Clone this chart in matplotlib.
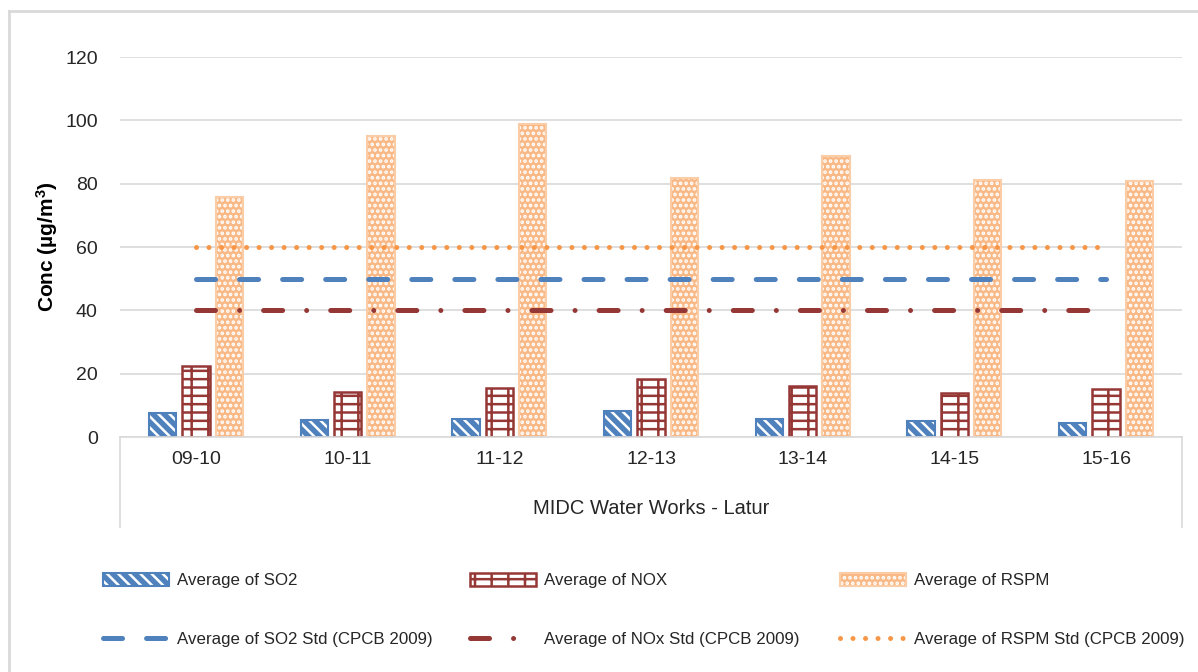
import matplotlib
matplotlib.use('Agg')
import numpy as np
import matplotlib.pyplot as plt
from matplotlib import font_manager
from matplotlib.lines import Line2D

# data
years = ['09-10', '10-11', '11-12', '12-13', '13-14', '14-15', '15-16']
so2 = [7.6, 5.4, 5.8, 8.3, 5.8, 5.0, 4.5]
nox = [22.4, 14.3, 15.6, 18.4, 16.1, 14.0, 15.2]
rspm = [75.9, 94.9, 98.9, 81.9, 88.6, 81.1, 81.0]
so2_std = [50] * 7
nox_std = [40] * 7
rspm_std = [60] * 7
station = 'MIDC Water Works - Latur'

names = {f.name for f in font_manager.fontManager.ttflist}
fam = 'Liberation Sans Narrow' if 'Liberation Sans Narrow' in names else 'Liberation Sans'
plt.rcParams['font.family'] = [fam, 'DejaVu Sans']
plt.rcParams['mathtext.default'] = 'regular'
plt.rcParams['lines.scale_dashes'] = False
plt.rcParams['hatch.linewidth'] = 1.8

blue = '#4F81BD'
red = '#953735'
orange = '#F79646'
peach = '#F9B986'
grid = '#D9D9D9'
txt = '#262626'

fig = plt.figure(figsize=(11.98, 6.72), dpi=100)
ax = fig.add_axes([120 / 1198, 1 - 437 / 672, 1062 / 1198, 380 / 672])

x = np.arange(len(years))
w = 0.18
off = 0.22

# SO2: blue fill with white stripes, blue outline
b1 = ax.bar(x - off, so2, w, color=blue, edgecolor='white', hatch='\\\\\\', linewidth=0)
b1e = ax.bar(x - off, so2, w, fill=False, edgecolor=blue, linewidth=1.5)
# NOX: brick-like pattern
b2 = ax.bar(x, nox, w, color='white', edgecolor=red, hatch='--|', linewidth=1.8)
# RSPM: peach with white dots
b3 = ax.bar(x + off, rspm, w, color=peach, edgecolor='white', hatch='...', linewidth=0)
b3e = ax.bar(x + off, rspm, w, fill=False, edgecolor='#FBCDA6', linewidth=1.5)

lw = 3.6
l1, = ax.plot(x, so2_std, color=blue, lw=lw, dash_capstyle='round')
l1.set_dashes((13.7, 17.3))
l2, = ax.plot(x, nox_std, color=red, lw=lw, dash_capstyle='round')
l2.set_dashes((13.7, 17.3, 0.01, 17.3))
l3, = ax.plot(x, rspm_std, color=orange, lw=lw, dash_capstyle='round')
l3.set_dashes((0.01, 9.0))

ax.set_xlim(-0.5, len(years) - 0.5)
ax.set_ylim(0, 120)
ax.set_yticks(range(0, 121, 20))
ax.yaxis.grid(True, color=grid, lw=1.2)
ax.set_axisbelow(True)
for s in ['top', 'right', 'left']:
    ax.spines[s].set_visible(False)
ax.spines['bottom'].set_color(grid)
ax.spines['bottom'].set_linewidth(1.2)
ax.tick_params(axis='y', length=0, pad=16, labelsize=14, labelcolor=txt)
ax.set_xticks(x)
ax.set_xticklabels(years)
ax.tick_params(axis='x', length=0, pad=10, labelsize=14, labelcolor=txt)
ax.set_ylabel('Conc (µg/m$^3$)', fontsize=15, fontweight='bold')
ax.yaxis.set_label_coords(-60 / 1062, 0.5)

# category axis box
for xa in [0, 1]:
    ax.plot([xa, xa], [0, -90 / 380], transform=ax.transAxes, color=grid,
            lw=1.2, clip_on=False)
fig.text(651 / 1198, 1 - 508 / 672, station, ha='center', va='center',
         fontsize=14.5, color=txt)

# chart border
fig.add_artist(Line2D([9 / 1198, 1], [1 - 11 / 672, 1 - 11 / 672], color=grid, lw=2))
fig.add_artist(Line2D([9 / 1198, 9 / 1198], [0, 1 - 11 / 672], color=grid, lw=2))

cols = [
    ([(b1[0], b1e[0]), l1], ['Average of SO2', 'Average of SO2 Std (CPCB 2009)'], 103),
    ([b2[0], l2], ['Average of NOX', 'Average of NOx Std (CPCB 2009)'], 470),
    ([(b3[0], b3e[0]), l3], ['Average of RSPM', 'Average of RSPM Std (CPCB 2009)'], 840),
]
for hs, ls, px in cols:
    fig.legend(hs, ls, ncol=1, loc='upper left',
               bbox_to_anchor=(px / 1198, 1 - 573 / 672), frameon=False,
               fontsize=12.2, handlelength=3.9, handleheight=0.8,
               handletextpad=0.45, labelspacing=2.55,
               borderpad=0, borderaxespad=0, labelcolor=txt)

fig.savefig('out.png', dpi=100)
